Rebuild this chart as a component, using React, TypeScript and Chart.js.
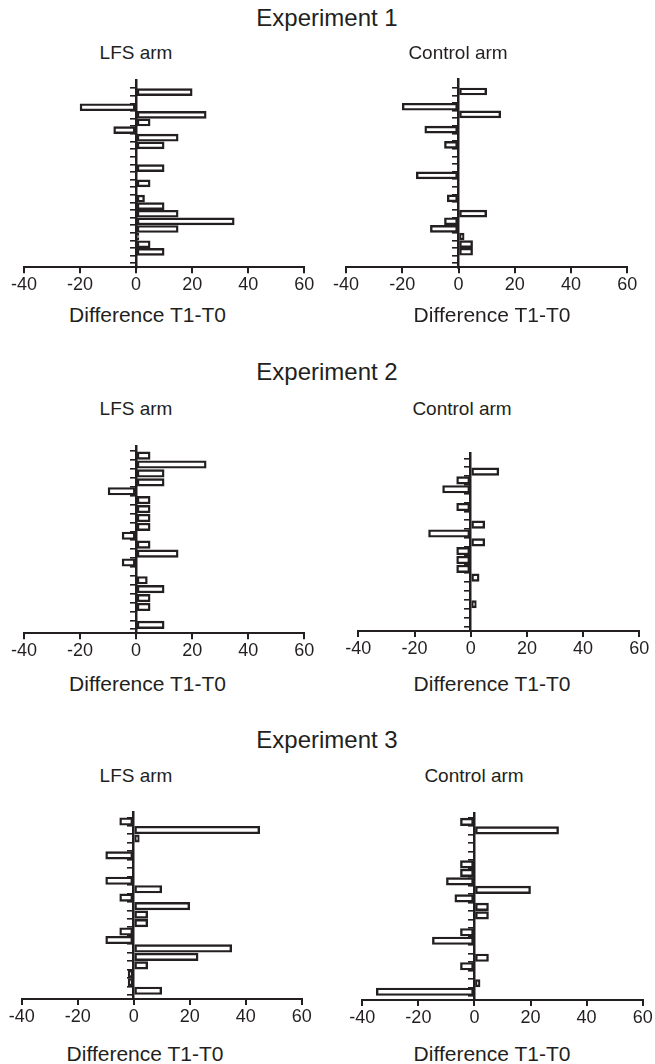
import React, { useEffect, useRef } from "react";
import { Chart, registerables } from "chart.js";

Chart.register(...registerables);

// ---------- data ----------
const xTickValues = [-40, -20, 0, 20, 40, 60];

const exp1Lfs = [20, 0, -20, 25, 5, -8, 15, 10, 0, 0, 10, 0, 5, 0, 3, 10, 15, 35, 15, 1, 5, 10, 0];
const exp1Control = [10, 0, -20, 15, 0, -12, 0, -5, 0, 0, 0, -15, 0, 0, -4, 0, 10, -5, -10, 2, 5, 5, 0];
const exp2Lfs = [5, 25, 10, 10, -10, 5, 5, 5, 5, -5, 5, 15, -5, 0, 4, 10, 5, 5, 0, 10];
const exp2Control = [0, 10, -5, -10, 0, -5, 0, 5, -15, 5, -5, -5, -5, 3, 0, 0, 2, 0, 0];
const exp3Lfs = [-5, 45, 2, 0, -10, 0, 0, -10, 10, -5, 20, 5, 5, -5, -10, 35, 23, 5, -2, -2, 10];
const exp3Control = [-5, 30, 0, 0, 0, -5, -5, -10, 20, -7, 5, 5, 0, -5, -15, 0, 5, -5, 0, 2, -35];

const experimentTitles = ["Experiment 1", "Experiment 2", "Experiment 3"];
const armTitles = ["LFS arm", "Control arm"];
const xAxisTitle = "Difference T1-T0";

// ---------- style / layout ----------
const FONT = "'Liberation Sans', Arial, Helvetica, sans-serif";
const INK = "#231f20";

type Box = {
  left: number; right: number; top: number; bottom: number;
  padTop: number; padBottom: number; bar: number;
};

const panels: { values: number[]; box: Box }[] = [
  { values: exp1Lfs, box: { left: 24, right: 304.3, top: 80, bottom: 267.3, padTop: 1.05, padBottom: 0.5, bar: 7 } },
  { values: exp1Control, box: { left: 346, right: 627.3, top: 79, bottom: 267.3, padTop: 1.1, padBottom: 0.5, bar: 7 } },
  { values: exp2Lfs, box: { left: 24, right: 304.3, top: 446.7, bottom: 633.3, padTop: 0.48, padBottom: 0.43, bar: 7.5 } },
  { values: exp2Control, box: { left: 358.3, right: 639.3, top: 453.3, bottom: 631, padTop: 0.54, padBottom: 0.5, bar: 7.5 } },
  { values: exp3Lfs, box: { left: 21.7, right: 301.7, top: 812.7, bottom: 999, padTop: 0.52, padBottom: 0.45, bar: 7.5 } },
  { values: exp3Control, box: { left: 362.3, right: 642.7, top: 813.3, bottom: 1000, padTop: 0.49, padBottom: 0.45, bar: 7.5 } },
];

const texts: { text: string; x: number; y: number; size: number }[] = [
  { text: experimentTitles[0], x: 327, y: 18, size: 24 },
  { text: armTitles[0], x: 136, y: 52, size: 19 },
  { text: armTitles[1], x: 458, y: 52, size: 19 },
  { text: xAxisTitle, x: 147.5, y: 313.5, size: 21 },
  { text: xAxisTitle, x: 492, y: 313.5, size: 21 },
  { text: experimentTitles[1], x: 327, y: 372, size: 24 },
  { text: armTitles[0], x: 136, y: 408, size: 19 },
  { text: armTitles[1], x: 462, y: 408, size: 19 },
  { text: xAxisTitle, x: 147.5, y: 682.5, size: 21 },
  { text: xAxisTitle, x: 492, y: 682.5, size: 21 },
  { text: experimentTitles[2], x: 327, y: 740, size: 24 },
  { text: armTitles[0], x: 136, y: 775, size: 19 },
  { text: armTitles[1], x: 474, y: 775, size: 19 },
  { text: xAxisTitle, x: 145, y: 1052.5, size: 21 },
  { text: xAxisTitle, x: 492, y: 1052.5, size: 21 },
];

function Panel({ values, box }: { values: number[]; box: Box }) {
  const ref = useRef<HTMLCanvasElement>(null);
  const cLeft = Math.round(box.left - 24);
  const cRight = Math.round(box.right + 24);
  const cTop = Math.round(box.top - 6);
  const cBottom = Math.round(box.bottom + 34);
  const w = cRight - cLeft;
  const h = cBottom - cTop;

  useEffect(() => {
    const idx = values.map((_, i) => i);
    const chart = new Chart(ref.current as HTMLCanvasElement, {
      type: "bar",
      data: {
        datasets: [
          {
            data: values.map((v, i) => ({ x: v, y: i })),
            backgroundColor: "#ffffff",
            borderColor: INK,
            borderWidth: 2.4,
            borderSkipped: false,
            barThickness: box.bar,
          } as any,
        ],
      },
      options: {
        indexAxis: "y",
        animation: false,
        responsive: false,
        maintainAspectRatio: false,
        events: [],
        layout: {
          padding: {
            left: box.left - cLeft,
            right: cRight - box.right,
            top: box.top - cTop,
            bottom: 0,
          },
        },
        plugins: { legend: { display: false }, tooltip: { enabled: false }, title: { display: false } },
        scales: {
          x: {
            type: "linear",
            position: "bottom",
            min: -40,
            max: 60,
            afterBuildTicks: (s: any) => {
              s.ticks = xTickValues.map((v) => ({ value: v }));
            },
            afterFit: (s: any) => {
              s.height = cBottom - box.bottom;
            },
            ticks: { font: { size: 18, family: FONT }, color: INK, padding: 1, maxRotation: 0, autoSkip: false },
            grid: { drawOnChartArea: false, drawTicks: true, tickLength: 6, color: INK, lineWidth: 2 },
            border: { color: INK, width: 2 },
          },
          y: {
            type: "linear",
            position: { x: 0 } as any,
            reverse: true,
            min: -box.padTop,
            max: values.length - 1 + box.padBottom,
            afterBuildTicks: (s: any) => {
              s.ticks = idx.map((v) => ({ value: v }));
            },
            afterFit: (s: any) => {
              s.width = 0;
            },
            ticks: { display: false },
            grid: { drawOnChartArea: false, drawTicks: true, tickLength: 5, color: INK, lineWidth: 1.6 },
            border: { color: INK, width: 2.5 },
          },
        },
      } as any,
    });
    return () => chart.destroy();
  }, []);

  return (
    <canvas
      ref={ref}
      width={w}
      height={h}
      style={{ position: "absolute", left: cLeft, top: cTop, width: w, height: h }}
    />
  );
}

export default function App() {
  Chart.defaults.font.family = FONT;
  return (
    <div
      style={{
        position: "absolute",
        left: 0,
        top: 0,
        width: 655,
        height: 1064,
        background: "#ffffff",
        overflow: "hidden",
        fontFamily: FONT,
        color: INK,
      }}
    >
      {panels.map((p, i) => (
        <Panel key={i} values={p.values} box={p.box} />
      ))}
      {texts.map((t, i) => (
        <div
          key={"t" + i}
          style={{
            position: "absolute",
            left: t.x,
            top: t.y,
            transform: "translate(-50%, -50%)",
            fontSize: t.size,
            lineHeight: 1,
            whiteSpace: "nowrap",
          }}
        >
          {t.text}
        </div>
      ))}
    </div>
  );
}
